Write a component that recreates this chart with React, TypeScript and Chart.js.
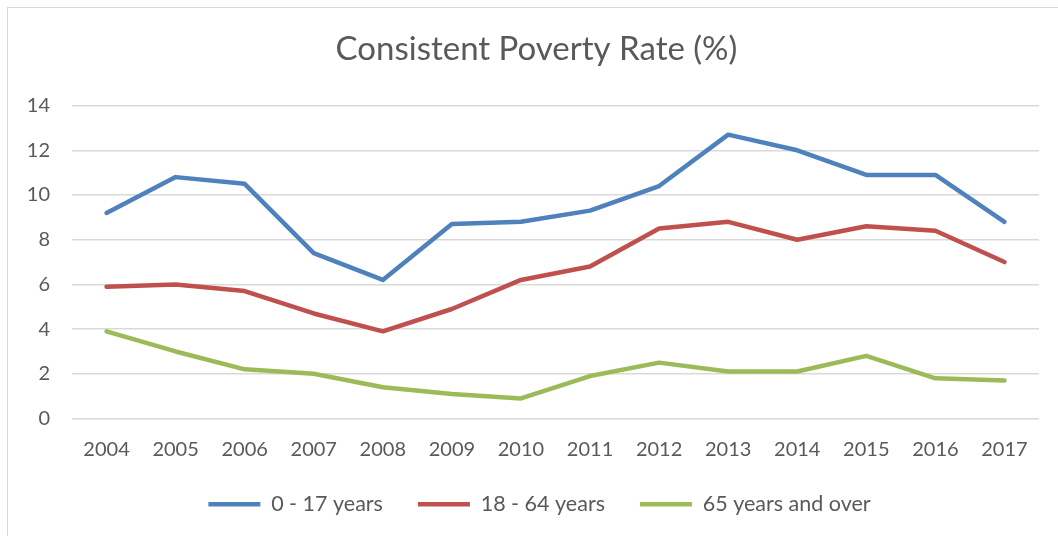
import React, { useEffect, useRef } from "react";
import { Chart, registerables } from "chart.js";

Chart.register(...registerables);

const years = ["2004", "2005", "2006", "2007", "2008", "2009", "2010", "2011", "2012", "2013", "2014", "2015", "2016", "2017"];
const children = [9.2, 10.8, 10.5, 7.4, 6.2, 8.7, 8.8, 9.3, 10.4, 12.7, 12.0, 10.9, 10.9, 8.8];
const workingAge = [5.9, 6.0, 5.7, 4.7, 3.9, 4.9, 6.2, 6.8, 8.5, 8.8, 8.0, 8.6, 8.4, 7.0];
const elderly = [3.9, 3.0, 2.2, 2.0, 1.4, 1.1, 0.9, 1.9, 2.5, 2.1, 2.1, 2.8, 1.8, 1.7];
const seriesLabels = ["0 - 17 years", "18 - 64 years", "65 years and over"];
const seriesColors = ["#4F81BD", "#C0504D", "#9BBB59"];

const FONT = "Lato, 'Open Sans', sans-serif";
const TEXT = "#595959";

const shiftBlocks = {
  id: "shiftBlocks",
  afterLayout(chart: any) {
    if (chart.titleBlock) {
      chart.titleBlock.left += 13;
      chart.titleBlock.right += 13;
    }
    if (chart.legend) {
      chart.legend.left += 16;
      chart.legend.right += 16;
    }
  },
};

export default function App() {
  const ref = useRef<HTMLCanvasElement | null>(null);

  useEffect(() => {
    if (!ref.current) return;
    const values = [children, workingAge, elderly];
    const chart = new Chart(ref.current, {
      type: "line",
      data: {
        labels: years,
        datasets: values.map((v, i) => ({
          label: seriesLabels[i],
          data: v,
          borderColor: seriesColors[i],
          backgroundColor: seriesColors[i],
          borderWidth: 4.5,
          borderCapStyle: "round" as const,
          borderJoinStyle: "round" as const,
          pointRadius: 0,
          pointHoverRadius: 0,
          tension: 0,
          fill: false,
        })),
      },
      plugins: [shiftBlocks],
      options: {
        responsive: false,
        animation: false,
        maintainAspectRatio: false,
        layout: { padding: { left: 0, right: 19, top: 0, bottom: 11 } },
        plugins: {
          title: {
            display: true,
            text: "Consistent Poverty Rate (%)",
            color: TEXT,
            font: { family: FONT, size: 33, weight: "normal" },
            padding: { top: 22, bottom: 36 },
          },
          legend: {
            position: "bottom",
            labels: {
              color: TEXT,
              font: { family: FONT, size: 21.5 },
              usePointStyle: true,
              pointStyle: "line",
              pointStyleWidth: 52,
              boxHeight: 22,
              padding: 35,
            },
          },
          tooltip: { enabled: false },
        },
        scales: {
          x: {
            offset: true,
            grid: { display: false, drawTicks: false },
            border: { display: false },
            ticks: {
              color: TEXT,
              font: { family: FONT, size: 20 },
              padding: 19,
              maxRotation: 0,
              autoSkip: false,
            },
            afterFit: (s: any) => {
              s.height = 40;
            },
          },
          y: {
            min: 0,
            max: 14,
            grid: { color: "#D9D9D9", lineWidth: 1.5, drawTicks: false },
            border: { display: false },
            ticks: {
              stepSize: 2,
              color: TEXT,
              font: { family: FONT, size: 20 },
              padding: 22,
            },
            afterFit: (s: any) => {
              s.width = 64;
            },
          },
        },
      },
    });
    return () => chart.destroy();
  }, []);

  return (
    <div
      style={{
        position: "absolute",
        left: 7,
        top: 7,
        width: 1060,
        height: 540,
        border: "1px solid #D9D9D9",
        background: "#fff",
        boxSizing: "border-box",
      }}
    >
      <canvas ref={ref} width={1050} height={528} style={{ display: "block", position: "absolute", left: 0, top: 0 }} />
    </div>
  );
}
